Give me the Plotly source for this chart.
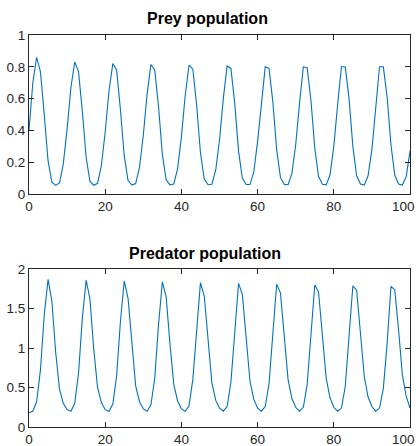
import plotly.graph_objects as go
from plotly.subplots import make_subplots

t = list(range(0, 101))

prey = [
    0.40, 0.70, 0.86, 0.77, 0.50, 0.21, 0.075, 0.055, 0.07, 0.19, 0.41, 0.67,
    0.83, 0.77, 0.52, 0.23, 0.08, 0.056, 0.068, 0.18, 0.39, 0.65,
    0.82, 0.78, 0.53, 0.24, 0.085, 0.057, 0.066, 0.17, 0.37, 0.63,
    0.815, 0.78, 0.55, 0.25, 0.09, 0.058, 0.064, 0.16, 0.36, 0.62,
    0.81, 0.785, 0.56, 0.26, 0.095, 0.059, 0.062, 0.15, 0.34, 0.60,
    0.805, 0.79, 0.57, 0.27, 0.10, 0.06, 0.06, 0.14, 0.33, 0.59,
    0.80, 0.79, 0.58, 0.28, 0.105, 0.061, 0.059, 0.13, 0.31, 0.57,
    0.80, 0.795, 0.59, 0.29, 0.11, 0.062, 0.058, 0.12, 0.30, 0.56,
    0.80, 0.80, 0.60, 0.30, 0.115, 0.063, 0.057, 0.115, 0.28, 0.54,
    0.80, 0.80, 0.61, 0.31, 0.12, 0.064, 0.057, 0.11, 0.27,
]

predator = [
    0.18, 0.20, 0.32, 0.72, 1.42, 1.87, 1.60, 0.95, 0.48, 0.30, 0.22,
    0.20, 0.30, 0.68, 1.38, 1.86, 1.62, 0.98, 0.50, 0.31, 0.22,
    0.20, 0.29, 0.65, 1.34, 1.85, 1.63, 1.02, 0.52, 0.32, 0.23,
    0.20, 0.28, 0.62, 1.30, 1.84, 1.65, 1.05, 0.54, 0.33, 0.23,
    0.20, 0.27, 0.60, 1.26, 1.83, 1.66, 1.08, 0.56, 0.34, 0.24,
    0.20, 0.26, 0.57, 1.22, 1.82, 1.68, 1.11, 0.58, 0.35, 0.24,
    0.20, 0.26, 0.55, 1.18, 1.81, 1.70, 1.14, 0.60, 0.36, 0.25,
    0.20, 0.25, 0.53, 1.14, 1.80, 1.71, 1.17, 0.62, 0.37, 0.25,
    0.20, 0.24, 0.51, 1.10, 1.79, 1.73, 1.20, 0.64, 0.38, 0.26,
    0.20, 0.24, 0.49, 1.06, 1.78, 1.74, 1.23, 0.66, 0.39, 0.24,
]

titles = ["Prey population", "Predator population"]
x_ticks = [0, 20, 40, 60, 80, 100]
x_tick_labels = ["0", "20", "40", "60", "80", "100"]
prey_ticks = [0, 0.2, 0.4, 0.6, 0.8, 1]
prey_tick_labels = ["0", "0.2", "0.4", "0.6", "0.8", "1"]
pred_ticks = [0, 0.5, 1, 1.5, 2]
pred_tick_labels = ["0", "0.5", "1", "1.5", "2"]

W, H = 418, 446
ml = 29.3
mr = W - 410.0
mt = 35.0
mb = H - 426.7
plot_h = H - mt - mb

fig = make_subplots(rows=2, cols=1)
fig.add_trace(go.Scatter(x=t, y=prey, mode="lines",
                         line=dict(color="#0072BD", width=1.1)), row=1, col=1)
fig.add_trace(go.Scatter(x=t, y=predator, mode="lines",
                         line=dict(color="#0072BD", width=1.1)), row=2, col=1)

font_fam = "Liberation Sans, Arial, Helvetica, sans-serif"
tick_font = dict(family=font_fam, size=13.5, color="#262626")
axis_common = dict(showline=True, linecolor="#262626", linewidth=1, mirror="ticks",
                   ticks="inside", ticklen=5, tickcolor="#262626", tickwidth=1,
                   showgrid=False, zeroline=False, automargin=False,
                   ticklabeloverflow="allow", tickfont=tick_font)

top_lo = 1 - 159.0 / plot_h
bot_hi = 157.7 / plot_h

# the last x label sits at the window edge: it is drawn as a right-aligned
# annotation so it stays fully inside the window
x_text = x_tick_labels[:-1] + [""]

fig.update_xaxes(range=[0, 100], tickvals=x_ticks, ticktext=x_text, **axis_common)
fig.update_yaxes(**axis_common)
fig.update_layout(
    yaxis=dict(domain=[top_lo, 1], range=[0, 1], tickvals=prey_ticks,
               ticktext=prey_tick_labels),
    yaxis2=dict(domain=[0, bot_hi], range=[0, 2], tickvals=pred_ticks,
                ticktext=pred_tick_labels),
    xaxis=dict(domain=[0, 1], anchor="y"),
    xaxis2=dict(domain=[0, 1], anchor="y2"),
)

def py2paper(py):
    return (H - mb - py) / plot_h

def px2paper(px):
    return (px - ml) / (W - ml - mr)

ann = []
for title, cx, cy in [(titles[0], 207.5, 18.5), (titles[1], 205.0, 253.5)]:
    ann.append(dict(text="<b>" + title + "</b>", x=px2paper(cx), y=py2paper(cy),
                    xref="paper", yref="paper", xanchor="center", yanchor="middle",
                    showarrow=False,
                    font=dict(family=font_fam, size=16, color="#000000")))

for label_y in (206.0, 439.0):
    ann.append(dict(text=x_tick_labels[-1], x=px2paper(417.0), y=py2paper(label_y),
                    xref="paper", yref="paper", xanchor="right", yanchor="middle",
                    showarrow=False, font=tick_font))

fig.update_layout(
    width=W, height=H, showlegend=False,
    margin=dict(l=ml, r=mr, t=mt, b=mb, pad=0, autoexpand=False),
    paper_bgcolor="white", plot_bgcolor="white",
    annotations=ann,
)

# remove the browser's default 8px page margin so the figure fills the window
fig.write_html(
    "out.html",
    config={"displayModeBar": False},
    post_script="document.body.style.margin='0';document.body.style.overflow='hidden';",
)
